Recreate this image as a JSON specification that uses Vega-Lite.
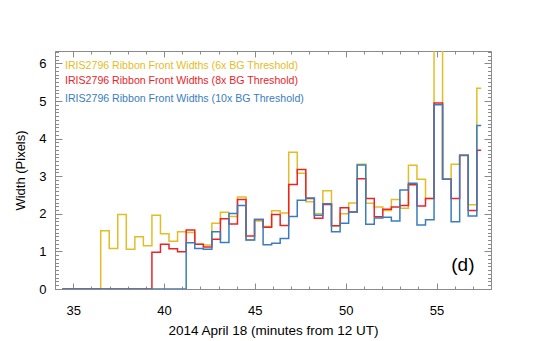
{
  "$schema": "https://vega.github.io/schema/vega-lite/v6.json",
  "width": 436,
  "height": 238,
  "autosize": "none",
  "padding": {"left": 55, "top": 51, "right": 54, "bottom": 52},
  "background": "white",
  "config": {
    "view": {"stroke": null},
    "font": "Liberation Sans",
    "axis": {
      "grid": false,
      "domainColor": "#8a8a8a",
      "tickColor": "#8a8a8a",
      "labelColor": "#000000",
      "titleColor": "#000000",
      "labelFont": "Liberation Sans",
      "titleFont": "Liberation Sans",
      "labelFontSize": 13,
      "titleFontSize": 13,
      "titleFontWeight": "normal"
    }
  },
  "datasets": {
    "widths": [
      {"t": 34.40, "w6": 0, "w8": 0, "w10": 0},
      {"t": 34.87, "w6": 0, "w8": 0, "w10": 0},
      {"t": 35.34, "w6": 0, "w8": 0, "w10": 0},
      {"t": 35.81, "w6": 0, "w8": 0, "w10": 0},
      {"t": 36.28, "w6": 0, "w8": 0, "w10": 0},
      {"t": 36.75, "w6": 1.55, "w8": 0, "w10": 0},
      {"t": 37.22, "w6": 1.08, "w8": 0, "w10": 0},
      {"t": 37.69, "w6": 1.98, "w8": 0, "w10": 0},
      {"t": 38.16, "w6": 1.06, "w8": 0, "w10": 0},
      {"t": 38.63, "w6": 1.39, "w8": 0, "w10": 0},
      {"t": 39.10, "w6": 1.15, "w8": 0, "w10": 0},
      {"t": 39.57, "w6": 1.96, "w8": 0.98, "w10": 0},
      {"t": 40.04, "w6": 1.47, "w8": 1.19, "w10": 0},
      {"t": 40.51, "w6": 1.27, "w8": 1.07, "w10": 0},
      {"t": 40.98, "w6": 1.52, "w8": 0.99, "w10": 0},
      {"t": 41.46, "w6": 1.50, "w8": 1.57, "w10": 1.23},
      {"t": 41.93, "w6": 1.19, "w8": 1.19, "w10": 1.08},
      {"t": 42.40, "w6": 1.17, "w8": 1.12, "w10": 1.06},
      {"t": 42.87, "w6": 1.75, "w8": 1.32, "w10": 1.52},
      {"t": 43.34, "w6": 2.04, "w8": 1.87, "w10": 1.24},
      {"t": 43.81, "w6": 1.93, "w8": 1.73, "w10": 2.01},
      {"t": 44.28, "w6": 2.45, "w8": 2.38, "w10": 2.22},
      {"t": 44.75, "w6": 1.30, "w8": 1.41, "w10": 1.30},
      {"t": 45.22, "w6": 1.81, "w8": 1.85, "w10": 1.85},
      {"t": 45.69, "w6": 1.66, "w8": 1.64, "w10": 1.18},
      {"t": 46.16, "w6": 2.08, "w8": 1.98, "w10": 1.22},
      {"t": 46.63, "w6": 2.02, "w8": 1.69, "w10": 1.34},
      {"t": 47.10, "w6": 3.64, "w8": 2.78, "w10": 1.93},
      {"t": 47.57, "w6": 3.08, "w8": 3.18, "w10": 2.36},
      {"t": 48.04, "w6": 2.32, "w8": 2.41, "w10": 2.42},
      {"t": 48.51, "w6": 2.00, "w8": 1.88, "w10": 1.96},
      {"t": 48.98, "w6": 2.61, "w8": 2.25, "w10": 2.27},
      {"t": 49.46, "w6": 1.68, "w8": 1.68, "w10": 1.52},
      {"t": 49.93, "w6": 2.00, "w8": 2.16, "w10": 1.75},
      {"t": 50.40, "w6": 2.29, "w8": 2.05, "w10": 2.05},
      {"t": 50.87, "w6": 3.32, "w8": 2.93, "w10": 3.30},
      {"t": 51.34, "w6": 2.28, "w8": 2.41, "w10": 1.72},
      {"t": 51.81, "w6": 2.18, "w8": 1.92, "w10": 1.89},
      {"t": 52.28, "w6": 2.09, "w8": 2.12, "w10": 1.91},
      {"t": 52.75, "w6": 2.38, "w8": 2.18, "w10": 1.81},
      {"t": 53.22, "w6": 2.15, "w8": 2.22, "w10": 2.63},
      {"t": 53.69, "w6": 3.29, "w8": 2.77, "w10": 2.81},
      {"t": 54.16, "w6": 2.92, "w8": 2.21, "w10": 1.70},
      {"t": 54.63, "w6": 2.41, "w8": 2.41, "w10": 1.84},
      {"t": 55.10, "w6": 6.40, "w8": 4.95, "w10": 4.90},
      {"t": 55.57, "w6": 2.92, "w8": 2.92, "w10": 2.92},
      {"t": 56.04, "w6": 3.32, "w8": 2.41, "w10": 1.79},
      {"t": 56.51, "w6": 3.56, "w8": 3.56, "w10": 3.55},
      {"t": 56.98, "w6": 2.24, "w8": 2.09, "w10": 1.94},
      {"t": 57.46, "w6": 5.34, "w8": 3.69, "w10": 4.35}
    ],
    "notes": [
      {"t": 34.55, "w": 5.94, "label": "IRIS2796 Ribbon Front Widths (6x BG Threshold)", "c": "6x"},
      {"t": 34.55, "w": 5.53, "label": "IRIS2796 Ribbon Front Widths (8x BG Threshold)", "c": "8x"},
      {"t": 34.55, "w": 5.05, "label": "IRIS2796 Ribbon Front Widths (10x BG Threshold)", "c": "10x"}
    ],
    "panel": [
      {"t": 56.45, "w": 0.64, "label": "(d)"}
    ]
  },
  "layer": [
    {
      "data": {"name": "widths"},
      "mark": {"type": "line", "interpolate": "step", "color": "#E2BD26", "strokeWidth": 1.5, "clip": true},
      "encoding": {
        "x": {"field": "t", "type": "quantitative",
          "scale": {"domain": [34, 58], "nice": false, "zero": false},
          "axis": {"orient": "bottom", "values": [35, 40, 45, 50, 55], "tickSize": -6, "labelPadding": 21,
            "title": "2014 April 18 (minutes from 12 UT)", "titlePadding": 6, "titleFontSize": 13.5}},
        "y": {"field": "w6", "type": "quantitative",
          "scale": {"domain": [0, 6.33], "nice": false, "zero": false},
          "axis": {"orient": "left", "values": [0, 1, 2, 3, 4, 5, 6], "tickSize": -7, "labelPadding": 16,
            "title": "Width (Pixels)", "titlePadding": 11}}
      }
    },
    {
      "data": {"name": "widths"},
      "mark": {"type": "line", "interpolate": "step", "color": "#E8242B", "strokeWidth": 1.5, "clip": true},
      "encoding": {
        "x": {"field": "t", "type": "quantitative",
          "axis": {"orient": "top", "values": [35, 40, 45, 50, 55], "tickSize": -6, "labels": false, "title": null}},
        "y": {"field": "w8", "type": "quantitative",
          "axis": {"orient": "right", "values": [0, 1, 2, 3, 4, 5, 6], "tickSize": -7, "labels": false, "title": null}}
      }
    },
    {
      "data": {"name": "widths"},
      "mark": {"type": "line", "interpolate": "step", "color": "#3A7DBE", "strokeWidth": 1.5, "clip": true},
      "encoding": {
        "x": {"field": "t", "type": "quantitative",
          "axis": {"orient": "bottom", "values": [34, 35, 36, 37, 38, 39, 40, 41, 42, 43, 44, 45, 46, 47, 48, 49, 50, 51, 52, 53, 54, 55, 56, 57, 58], "tickSize": -3, "labels": false, "domain": false, "title": null}},
        "y": {"field": "w10", "type": "quantitative",
          "axis": {"orient": "left", "values": [0, 0.1, 0.2, 0.3, 0.4, 0.5, 0.6, 0.7, 0.8, 0.9, 1, 1.1, 1.2, 1.3, 1.4, 1.5, 1.6, 1.7, 1.8, 1.9, 2, 2.1, 2.2, 2.3, 2.4, 2.5, 2.6, 2.7, 2.8, 2.9, 3, 3.1, 3.2, 3.3, 3.4, 3.5, 3.6, 3.7, 3.8, 3.9, 4, 4.1, 4.2, 4.3, 4.4, 4.5, 4.6, 4.7, 4.8, 4.9, 5, 5.1, 5.2, 5.3, 5.4, 5.5, 5.6, 5.7, 5.8, 5.9, 6, 6.1, 6.2, 6.3], "tickSize": -3.5, "labels": false, "domain": false, "title": null}}
      }
    },
    {
      "data": {"name": "notes"},
      "mark": {"type": "text", "align": "left", "baseline": "middle", "fontSize": 10.6, "font": "Liberation Sans"},
      "encoding": {
        "x": {"field": "t", "type": "quantitative",
          "axis": {"orient": "top", "values": [34, 35, 36, 37, 38, 39, 40, 41, 42, 43, 44, 45, 46, 47, 48, 49, 50, 51, 52, 53, 54, 55, 56, 57, 58], "tickSize": -3, "labels": false, "domain": false, "title": null}},
        "y": {"field": "w", "type": "quantitative",
          "axis": {"orient": "right", "values": [0, 0.1, 0.2, 0.3, 0.4, 0.5, 0.6, 0.7, 0.8, 0.9, 1, 1.1, 1.2, 1.3, 1.4, 1.5, 1.6, 1.7, 1.8, 1.9, 2, 2.1, 2.2, 2.3, 2.4, 2.5, 2.6, 2.7, 2.8, 2.9, 3, 3.1, 3.2, 3.3, 3.4, 3.5, 3.6, 3.7, 3.8, 3.9, 4, 4.1, 4.2, 4.3, 4.4, 4.5, 4.6, 4.7, 4.8, 4.9, 5, 5.1, 5.2, 5.3, 5.4, 5.5, 5.6, 5.7, 5.8, 5.9, 6, 6.1, 6.2, 6.3], "tickSize": -3.5, "labels": false, "domain": false, "title": null}},
        "text": {"field": "label"},
        "color": {"field": "c", "type": "nominal",
          "scale": {"domain": ["6x", "8x", "10x"], "range": ["#E2BD26", "#E8242B", "#3A7DBE"]},
          "legend": null}
      }
    },
    {
      "data": {"name": "panel"},
      "mark": {"type": "text", "align": "center", "baseline": "middle", "fontSize": 19, "font": "Liberation Sans", "color": "#000000"},
      "encoding": {
        "x": {"field": "t", "type": "quantitative", "axis": null},
        "y": {"field": "w", "type": "quantitative", "axis": null},
        "text": {"field": "label"}
      }
    }
  ],
  "resolve": {"axis": {"x": "independent", "y": "independent"}}
}
